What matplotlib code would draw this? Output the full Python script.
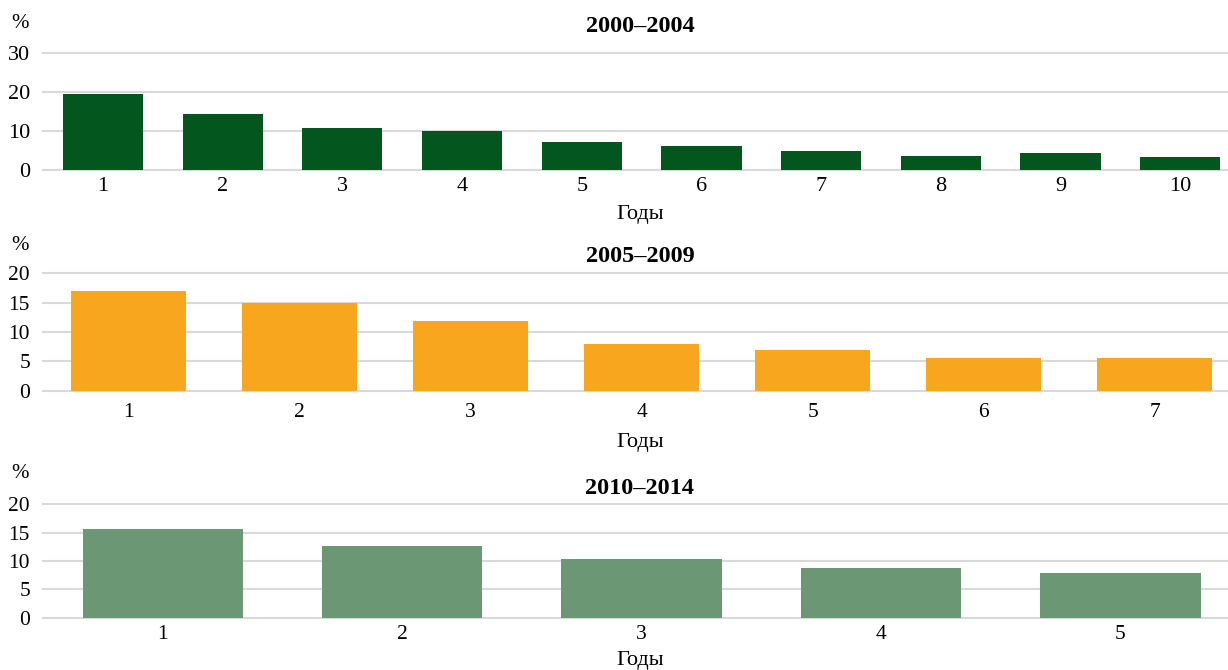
import matplotlib
matplotlib.use("Agg")
import matplotlib.pyplot as plt

plt.rcParams['font.family'] = ['Liberation Serif', 'DejaVu Serif']

# Share of cases by year, three periods
years_2000 = ["1", "2", "3", "4", "5", "6", "7", "8", "9", "10"]
vals_2000 = [19.4, 14.4, 10.7, 10.0, 7.2, 6.2, 4.9, 3.5, 4.4, 3.3]

years_2005 = ["1", "2", "3", "4", "5", "6", "7"]
vals_2005 = [17.0, 15.0, 11.9, 8.0, 7.0, 5.6, 5.6]

years_2010 = ["1", "2", "3", "4", "5"]
vals_2010 = [15.6, 12.7, 10.4, 8.8, 7.8]

titles = ["2000–2004", "2005–2009", "2010–2014"]
colors = ["#04561F", "#F9A61F", "#6C9774"]

W, H = 1228, 670
fig = plt.figure(figsize=(W / 100, H / 100), dpi=100)

def px_box(y_top, y_bottom, x_left=43.2, x_right=1240.0):
    return [x_left / W, 1 - y_bottom / H, (x_right - x_left) / W, (y_bottom - y_top) / H]

panels = [
    dict(cats=years_2000, vals=vals_2000, box=px_box(52.7, 170.0), ymax=30, step=10,
         title_y=26, pct_y=23, xlab_y=214, xpad=5, fs=16),
    dict(cats=years_2005, vals=vals_2005, box=px_box(273.3, 390.7), ymax=20, step=5,
         title_y=257, pct_y=245, xlab_y=443, xpad=8.5, fs=15.5),
    dict(cats=years_2010, vals=vals_2010, box=px_box(504.3, 617.7), ymax=20, step=5,
         title_y=488.5, pct_y=473, xlab_y=660.5, xpad=5, fs=15.5),
]

for p, title, color in zip(panels, titles, colors):
    ax = fig.add_axes(p["box"])
    x = list(range(len(p["cats"])))
    ax.bar(x, p["vals"], width=0.67, color=color, zorder=3)
    ax.set_xlim(-0.5, len(x) - 0.5)
    ax.set_ylim(0, p["ymax"])
    ax.set_yticks(list(range(0, p["ymax"] + 1, p["step"])))
    ax.set_xticks(x)
    ax.set_xticklabels(p["cats"])
    ax.grid(axis="y", color="#D9D9D9", linewidth=1.5, zorder=0)
    ax.set_axisbelow(True)
    for s in ax.spines.values():
        s.set_visible(False)
    ax.tick_params(axis="both", length=0, labelsize=p["fs"], colors="black")
    ax.tick_params(axis="y", pad=9.5)
    ax.tick_params(axis="x", pad=p["xpad"])
    for gl in ax.get_ygridlines():
        gl.set_clip_on(False)

    fig.text(640 / W, 1 - p["title_y"] / H, title, ha="center", va="center",
             fontsize=17.5, fontweight="bold")
    fig.text(20.5 / W, 1 - p["pct_y"] / H, "%", ha="center", va="center", fontsize=15)
    fig.text(640 / W, 1 - p["xlab_y"] / H, "Годы", ha="center", va="center", fontsize=16)

fig.savefig("out.png", dpi=100)
